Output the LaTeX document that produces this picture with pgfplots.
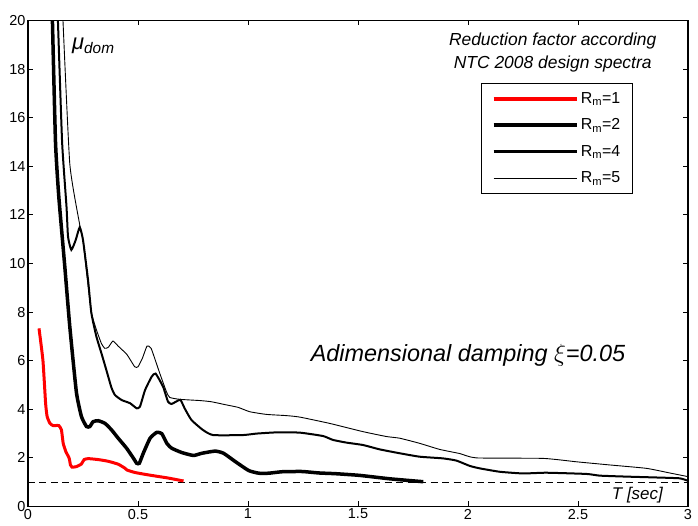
\documentclass[border=0pt]{standalone}
\usepackage{fontspec}
\setmainfont{Liberation Sans}
\usepackage{pgfplots}
\pgfplotsset{compat=1.18}

\begin{document}
\begin{tikzpicture}
\begin{axis}[
  scale only axis,
  width=660bp, height=486bp,
  xmin=0, xmax=3, ymin=0, ymax=20,
  xtick={0,0.5,...,3}, ytick={0,2,...,20},
  tick align=inside,
  major tick length=5bp,
  axis line style={line width=1.2bp},
  every tick/.style={black, line width=0.8bp},
  /pgf/number format/assume math mode=true,
  ticklabel style={font=\fontsize{14.5}{16}\selectfont},
  yticklabel style={xshift=1bp},
  xticklabel style={yshift=1bp},
  legend style={at={(rel axis cs:0.686,0.872)}, anchor=north west,
    draw=black, line width=1.2bp, inner xsep=10bp, inner ysep=7bp,
    row sep=10bp, font=\fontsize{16}{17}\selectfont},
  legend cell align=left,
  legend image code/.code={\draw[#1] (0bp,0bp) -- (83bp,0bp);},
  every axis plot/.append style={smooth, tension=0.3},
]
% legend images
\addlegendimage{red, line width=4bp}
\addlegendentry{R\textsubscript{m}=1}
\addlegendimage{black, line width=4.5bp}
\addlegendentry{R\textsubscript{m}=2}
\addlegendimage{black, line width=2.5bp}
\addlegendentry{R\textsubscript{m}=4}
\addlegendimage{black, line width=1bp}
\addlegendentry{R\textsubscript{m}=5}

% reference line mu = 1
\addplot[black, sharp plot, line width=1.3bp, dash pattern=on 7bp off 4.5bp, forget plot]
  coordinates {(0,1) (3,1)};

% Rm = 5
\addplot[black, line width=0.9bp, forget plot] coordinates {
(0.159,20) (0.19,14.1) (0.235,11.6) (0.25,10.97) (0.265,9.73) (0.288,8.0)
(0.31,7.3) (0.334,6.7) (0.349,6.51) (0.365,6.55) (0.386,6.81) (0.41,6.6)
(0.45,6.25) (0.485,5.75) (0.5,5.75) (0.52,6.1) (0.541,6.6) (0.56,6.5)
(0.599,5.48) (0.629,4.73) (0.644,4.49) (0.69,4.41) (0.781,4.36) (0.834,4.31)
(0.902,4.18) (0.955,4.08) (1.008,3.9) (1.084,3.79) (1.175,3.74) (1.235,3.68)
(1.371,3.42) (1.523,3.08) (1.629,2.88) (1.69,2.81) (1.78,2.6) (1.871,2.35)
(1.962,2.18) (2.038,2.0) (2.341,1.98) (2.493,1.84) (2.644,1.71) (2.811,1.57)
(2.917,1.38) (3.0,1.23)
};

% Rm = 4
\addplot[black, line width=2bp, forget plot] coordinates {
(0.136,20) (0.155,15) (0.175,12.34) (0.182,11.1) (0.197,10.56) (0.217,10.97)
(0.235,11.49) (0.25,10.97) (0.273,9.32) (0.288,7.96) (0.311,6.99) (0.334,6.3)
(0.356,5.62) (0.379,4.9) (0.395,4.59) (0.426,4.38) (0.464,4.25) (0.494,4.04)
(0.509,4.11) (0.532,4.79) (0.562,5.34) (0.58,5.47) (0.614,4.93) (0.636,4.32)
(0.652,4.22) (0.674,4.32) (0.693,4.39) (0.712,4.04) (0.743,3.56) (0.795,3.15)
(0.841,2.94) (0.977,2.94) (1.038,3.0) (1.129,3.05) (1.235,3.04) (1.341,2.9)
(1.386,2.74) (1.447,2.63) (1.523,2.53) (1.599,2.35) (1.69,2.19) (1.78,2.05)
(1.886,1.98) (1.947,1.89) (2.008,1.67) (2.053,1.57) (2.144,1.43) (2.25,1.36)
(2.356,1.39) (2.538,1.34) (2.599,1.27) (2.72,1.23) (2.871,1.19) (2.962,1.16)
(3.0,1.06)
};

% Rm = 2
\addplot[black, line width=3.5bp, forget plot] coordinates {
(0.111,20) (0.125,15) (0.14,12.75) (0.167,9.9) (0.19,7.4) (0.22,4.7)
(0.243,3.7) (0.266,3.29) (0.281,3.29) (0.296,3.49) (0.319,3.53) (0.35,3.42)
(0.38,3.15) (0.41,2.81) (0.448,2.4) (0.479,1.99) (0.494,1.78) (0.506,1.78)
(0.524,2.19) (0.555,2.81) (0.585,3.05) (0.608,3.0) (0.631,2.6) (0.653,2.4)
(0.699,2.22) (0.752,2.1) (0.79,2.19) (0.851,2.28) (0.889,2.19) (0.942,1.85)
(1.003,1.48) (1.049,1.37) (1.094,1.37) (1.155,1.43) (1.246,1.44) (1.322,1.38)
(1.398,1.35) (1.508,1.28) (1.644,1.14) (1.797,1.02)
};

% Rm = 1
\addplot[red, line width=3bp, forget plot] coordinates {
(0.05,7.33) (0.068,6.0) (0.08,4.25) (0.087,3.7) (0.1,3.42) (0.114,3.33)
(0.14,3.33) (0.152,3.15) (0.16,2.6) (0.172,2.26) (0.187,1.99) (0.193,1.71)
(0.2,1.62) (0.22,1.64) (0.243,1.75) (0.255,1.93) (0.274,1.97) (0.32,1.93)
(0.365,1.86) (0.41,1.74) (0.44,1.58) (0.45,1.5) (0.486,1.4) (0.547,1.3)
(0.638,1.17) (0.707,1.05)
};

\node[anchor=west, inner sep=0pt] at (axis cs:0.2,18.95)
  {\fontsize{22}{24}\selectfont\itshape μ\textsubscript{dom}};
\node[align=center, font=\fontsize{17.5}{23}\selectfont\itshape] at (axis cs:2.385,18.7)
  {Reduction factor according\\NTC 2008 design spectra};
\node[font=\fontsize{23.5}{26}\selectfont\itshape] at (axis cs:2.0,6.24)
  {Adimensional damping $\xi$=0.05};
\node[font=\fontsize{17}{18}\selectfont\itshape] at (axis cs:2.77,0.47)
  {T [sec]};
\end{axis}
\pgfresetboundingbox
\path[use as bounding box] ([xshift=-28bp,yshift=-19.5bp]current axis.south west)
  rectangle ([xshift=10bp,yshift=20.5bp]current axis.north east);
\end{tikzpicture}
\end{document}
